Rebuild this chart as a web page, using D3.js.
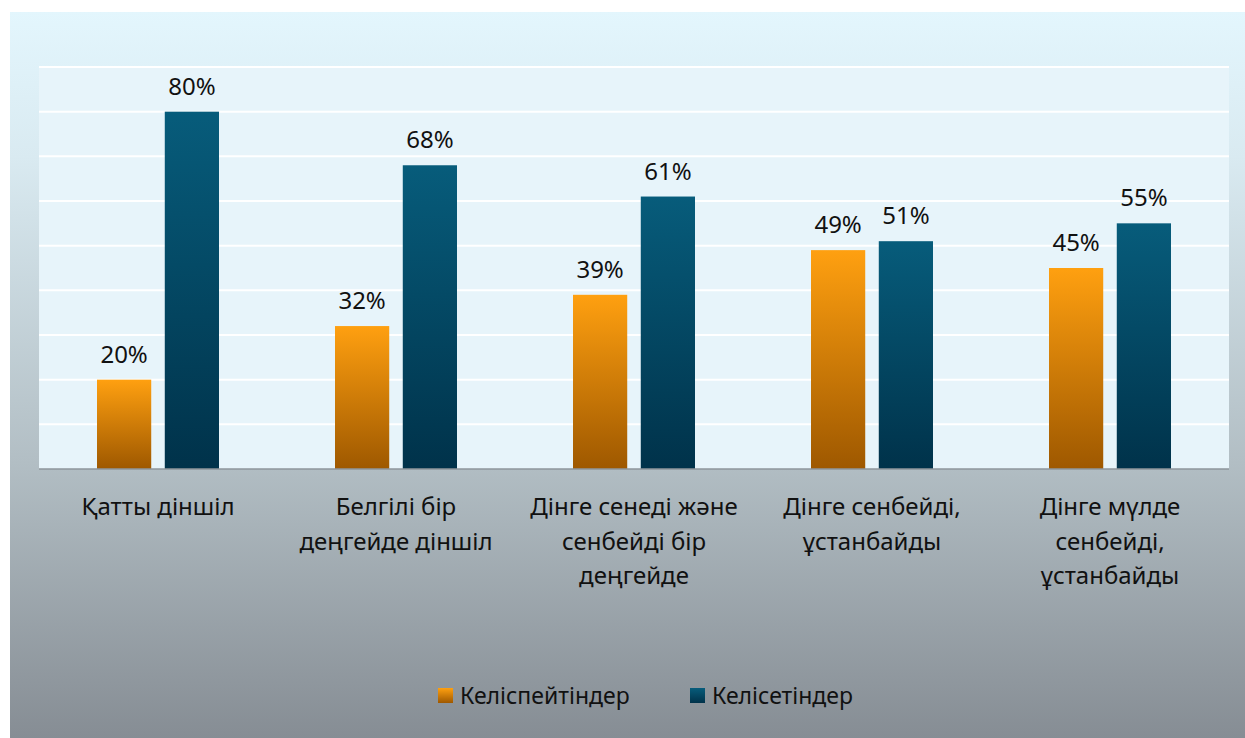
<!DOCTYPE html>
<html>
<head>
<meta charset="utf-8">
<script src="https://cdn.jsdelivr.net/npm/d3@7"></script>
<style>
  html, body { margin: 0; padding: 0; background: #fff; }
  svg { display: block; font-family: "Noto Sans", "DejaVu Sans", sans-serif; }
</style>
</head>
<body>
<div id="chart"></div>
<script>
// categories (wrapped the same way as the original)
const categories = [
    ["Қатты діншіл"],
    ["Белгілі бір", "деңгейде діншіл"],
    ["Дінге сенеді және", "сенбейді бір", "деңгейде"],
    ["Дінге сенбейді,", "ұстанбайды"],
    ["Дінге мүлде", "сенбейді,", "ұстанбайды"]
];
const seriesNames = ["Келіспейтіндер", "Келісетіндер"];
const disagree = [20, 32, 39, 49, 45];
const agree = [80, 68, 61, 51, 55];
const yTicks = [0, 10, 20, 30, 40, 50, 60, 70, 80, 90];

const width = 1245, height = 738;
const plot = { left: 39, right: 1229, top: 67, bottom: 469 };

const svg = d3.select("#chart").append("svg")
    .attr("width", width)
    .attr("height", height);

const defs = svg.append("defs");
const bg = defs.append("linearGradient").attr("id", "bg").attr("x1", 0).attr("y1", 0).attr("x2", 0).attr("y2", 1);
bg.append("stop").attr("offset", "0%").attr("stop-color", "#e3f6fd");
bg.append("stop").attr("offset", "20%").attr("stop-color", "#d9eaf1");
bg.append("stop").attr("offset", "62%").attr("stop-color", "#b2bec4");
bg.append("stop").attr("offset", "100%").attr("stop-color", "#868d94");

const gradColors = [["#ffa010", "#9e5800"], ["#075c7b", "#00324a"]];
gradColors.forEach((c, i) => {
    const g = defs.append("linearGradient").attr("id", "bar" + i)
        .attr("x1", 0).attr("y1", 0).attr("x2", 0).attr("y2", 1);
    g.append("stop").attr("offset", "0%").attr("stop-color", c[0]);
    g.append("stop").attr("offset", "100%").attr("stop-color", c[1]);
});

svg.append("rect")
    .attr("x", 10).attr("y", 12)
    .attr("width", width - 10).attr("height", height - 12)
    .attr("fill", "url(#bg)");

svg.append("rect")
    .attr("x", plot.left).attr("y", plot.top)
    .attr("width", plot.right - plot.left).attr("height", plot.bottom - plot.top)
    .attr("fill", "#e7f4fa");

const x0 = d3.scaleBand()
    .domain(d3.range(categories.length))
    .range([plot.left, plot.right]);
const x1 = d3.scaleBand()
    .domain(seriesNames)
    .range([58, 180])
    .paddingInner(0.2);
const y = d3.scaleLinear()
    .domain([0, 90])
    .range([plot.bottom, plot.top]);

// gridlines
svg.append("g")
    .selectAll("line")
    .data(yTicks.slice(1))
    .join("line")
    .attr("x1", plot.left).attr("x2", plot.right)
    .attr("y1", d => y(d)).attr("y2", d => y(d))
    .attr("stroke", "#ffffff")
    .attr("stroke-width", 2);

const rows = categories.map((c, i) => ({ i, values: [disagree[i], agree[i]] }));

const groups = svg.append("g")
    .selectAll("g")
    .data(rows)
    .join("g")
    .attr("transform", d => "translate(" + x0(d.i) + ",0)");

groups.selectAll("rect")
    .data(d => d.values.map((v, k) => ({ v, k })))
    .join("rect")
    .attr("x", d => x1(seriesNames[d.k]))
    .attr("width", x1.bandwidth())
    .attr("y", d => y(d.v))
    .attr("height", d => y(0) - y(d.v))
    .attr("fill", d => "url(#bar" + d.k + ")");

groups.selectAll("text.lbl")
    .data(d => d.values.map((v, k) => ({ v, k })))
    .join("text")
    .attr("class", "lbl")
    .attr("x", d => x1(seriesNames[d.k]) + x1.bandwidth() / 2)
    .attr("y", d => y(d.v) - 17)
    .attr("text-anchor", "middle")
    .attr("font-size", 24)
    .attr("fill", "#111")
    .text(d => d.v + "%");

// x axis line
svg.append("line")
    .attr("x1", plot.left).attr("x2", plot.right)
    .attr("y1", plot.bottom).attr("y2", plot.bottom)
    .attr("stroke", "#8e969b")
    .attr("stroke-width", 1.5);

// category labels
const xAxis = svg.append("g");
categories.forEach((lines, i) => {
    const t = xAxis.append("text")
        .attr("text-anchor", "middle")
        .attr("font-size", 24)
        .attr("fill", "#111");
    lines.forEach((ln, j) => {
        t.append("tspan")
            .attr("x", x0(i) + x0.bandwidth() / 2)
            .attr("y", 515 + j * 34.5)
            .text(ln);
    });
});

// legend
const legend = svg.append("g");
const legendX = [438, 690];
seriesNames.forEach((name, k) => {
    legend.append("rect")
        .attr("x", legendX[k]).attr("y", 688)
        .attr("width", 15).attr("height", 15)
        .attr("fill", "url(#bar" + k + ")");
    legend.append("text")
        .attr("x", legendX[k] + 22).attr("y", 704)
        .attr("font-size", 23)
        .attr("fill", "#111")
        .text(name);
});
</script>
</body>
</html>
